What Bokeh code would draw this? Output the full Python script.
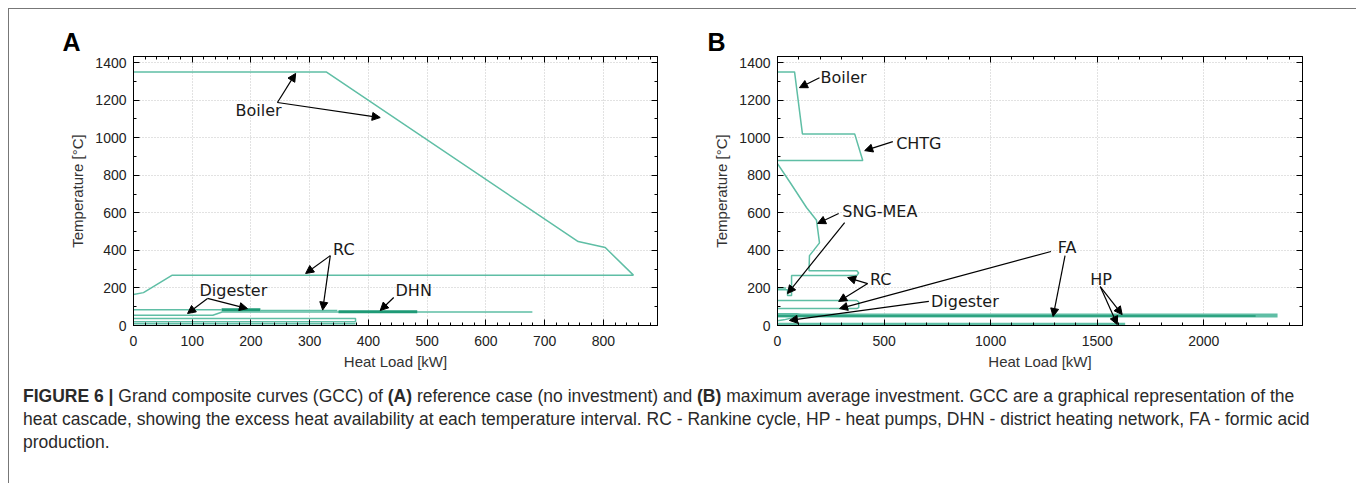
from bokeh.plotting import figure
from bokeh.models import (Range1d, LinearAxis, FixedTicker, Arrow, NormalHead, Div,
                          ColumnDataSource, CustomJSTickFormatter)
from bokeh.layouts import row, column
from bokeh.embed import file_html
from bokeh.resources import INLINE
from bokeh.core.properties import value

# ---------------- Panel A data (Heat load kW, Temperature C) ----------------
a_main_q = [0, 17, 66, 851, 803, 757, 328, 0]
a_main_t = [165, 175, 268, 268, 415, 447, 1350, 1350]
a_dig_q = [0, 150]
a_dig_t = [84, 84]
a_digdark_q = [150, 216]
a_digdark_t = [84, 84]
a_dig2_q = [216, 347]
a_dig2_t = [80, 80]
a_dhn_q = [0, 135, 151, 679]
a_dhn_t = [55, 55, 72, 72]
a_dhndark_q = [349, 483]
a_dhndark_t = [73, 73]
a_low_q = [0, 378, 378, 0]
a_low_t = [37, 37, 20, 20]
a_bot_q = [0, 378]
a_bot_t = [9, 9]

a_labels = ["Boiler", "RC", "Digester", "DHN"]
a_label_q = [213, 358, 170, 477]
a_label_t = [1144, 404, 186, 186]
a_arrow_q0 = [245, 245, 335, 335, 126, 126, 443]
a_arrow_t0 = [1187, 1187, 372, 372, 144, 144, 149]
a_arrow_q1 = [276, 420, 293, 322, 92, 194, 420]
a_arrow_t1 = [1342, 1107, 277, 82, 64, 90, 80]

a_xticks = [0, 100, 200, 300, 400, 500, 600, 700, 800]
yticks = [0, 200, 400, 600, 800, 1000, 1200, 1400]

# ---------------- Panel B data ----------------
b_main_q = [0, 80, 117, 362, 400, 0]
b_main_t = [1350, 1350, 1020, 1020, 878, 878]
b_sng_q = [0, 60, 136, 183, 197, 150, 148, 148, 372, 381, 372, 66, 66, 47, 47, 0]
b_sng_t = [862, 760, 628, 560, 440, 372, 300, 292, 292, 280, 266, 266, 160, 160, 190, 190]
b_s2_q = [0, 40]
b_s2_t = [200, 200]
b_rc2_q = [0, 372, 381, 381, 372, 0]
b_rc2_t = [133, 133, 125, 95, 90, 90]
b_dig_q = [0, 90, 120, 30, 0]
b_dig_t = [62, 62, 55, 30, 25]
b_fa_q = [0, 2346]
b_fa_t = [53, 53]
b_fadark_q = [0, 2243]
b_fadark_t = [50, 50]
b_hp_q = [0, 1631]
b_hp_t = [8, 8]

b_labels = ["Boiler", "CHTG", "SNG-MEA", "RC", "Digester", "FA", "HP"]
b_label_q = [310, 663, 480, 484, 879, 1359, 1518]
b_label_t = [1319, 968, 606, 245, 128, 415, 245]
b_arrow_q0 = [197, 541, 287, 315, 423, 423, 710, 1283, 1349, 1514, 1514]
b_arrow_t0 = [1319, 979, 596, 548, 223, 223, 128, 394, 372, 207, 207]
b_arrow_q1 = [103, 409, 188, 47, 329, 287, 56, 291, 1293, 1617, 1594]
b_arrow_t1 = [1266, 931, 543, 170, 255, 128, 27, 90, 48, 58, 5]

b_xticks = [0, 500, 1000, 1500, 2000]

LIGHT = "#5fbea5"
DARK = "#1e9a76"
TICK_FONT = "Liberation Sans"
LBL_FONT = "DejaVu Sans"
BLANK = CustomJSTickFormatter(code="return ''")


def style_axes(p, xticks, xminor):
    yminor = list(range(0, 1500, 100))
    p.xaxis.ticker = FixedTicker(ticks=xticks, minor_ticks=xminor)
    p.yaxis.ticker = FixedTicker(ticks=yticks, minor_ticks=yminor)
    for ax in [p.xaxis[0], p.yaxis[0]]:
        ax.major_tick_in = 6
        ax.major_tick_out = 0
        ax.minor_tick_in = 3
        ax.minor_tick_out = 0
        ax.axis_line_color = "black"
        ax.major_label_text_font = TICK_FONT
        ax.major_label_text_font_size = "14px"
        ax.major_label_text_color = "#222222"
        ax.axis_label_text_font = TICK_FONT
        ax.axis_label_text_font_size = "15px"
        ax.axis_label_text_font_style = "normal"
        ax.axis_label_text_color = "#333333"
    p.xaxis.major_label_standoff = 10
    p.xaxis.axis_label_standoff = 4
    p.yaxis.major_label_standoff = 7
    p.yaxis.axis_label_standoff = 6
    p.xaxis.axis_label = "Heat Load [kW]"
    p.yaxis.axis_label = "Temperature [°C]"
    top = LinearAxis(ticker=FixedTicker(ticks=xticks, minor_ticks=xminor), formatter=BLANK,
                     major_tick_in=6, major_tick_out=0, major_label_standoff=0,
                     minor_tick_in=3, minor_tick_out=0, axis_line_color="black")
    right = LinearAxis(ticker=FixedTicker(ticks=yticks, minor_ticks=yminor), formatter=BLANK,
                       major_tick_in=6, major_tick_out=0, major_label_standoff=0,
                       minor_tick_in=3, minor_tick_out=0, axis_line_color="black")
    p.add_layout(top, "above")
    p.add_layout(right, "right")
    p.xgrid.ticker = FixedTicker(ticks=xticks)
    p.ygrid.ticker = FixedTicker(ticks=yticks)
    for g in [p.xgrid[0], p.ygrid[0]]:
        g.grid_line_color = "#c4c4c4"
        g.grid_line_dash = "1 2"
        g.grid_line_width = 1
    p.outline_line_color = "black"


def style_title(p, text, offset):
    p.title.text = text
    p.title.text_font = TICK_FONT
    p.title.text_font_size = "25px"
    p.title.text_font_style = "bold"
    p.title.text_color = "black"
    p.title.align = "left"
    p.title.offset = offset
    p.title.standoff = 2


def add_labels(p, names, q, t, q0, t0, q1, t1):
    src = ColumnDataSource(dict(x=q, y=t, text=names))
    p.text(x="x", y="y", text="text", source=src, text_font=value(LBL_FONT),
           text_font_size="16px", text_align="center", text_baseline="middle",
           text_color="#1a1a1a")
    asrc = ColumnDataSource(dict(x0=q0, y0=t0, x1=q1, y1=t1))
    p.add_layout(Arrow(end=NormalHead(size=8, fill_color="black", line_color="black", line_width=1),
                       x_start="x0", y_start="y0", x_end="x1", y_end="y1", source=asrc,
                       line_color="black", line_width=1.2))


# ---------------- Figure A ----------------
pA = figure(width=691, height=366, output_backend="svg", toolbar_location=None,
            x_range=Range1d(0, 892), y_range=Range1d(0, 1432),
            min_border_left=124, min_border_right=43, min_border_top=47, min_border_bottom=50,
            background_fill_color="white", border_fill_color="white")
style_axes(pA, a_xticks, list(range(0, 900, 20)))
style_title(pA, "A", -71)
pA.line(a_main_q, a_main_t, line_color=LIGHT, line_width=1.5)
pA.line(a_dig_q, a_dig_t, line_color=LIGHT, line_width=1.5)
pA.line(a_dig2_q, a_dig2_t, line_color=LIGHT, line_width=1.5)
pA.line(a_dhn_q, a_dhn_t, line_color=LIGHT, line_width=1.5)
pA.line(a_low_q, a_low_t, line_color=LIGHT, line_width=1.5)
pA.line(a_bot_q, a_bot_t, line_color=LIGHT, line_width=1.5)
pA.line(a_digdark_q, a_digdark_t, line_color=DARK, line_width=3)
pA.line(a_dhndark_q, a_dhndark_t, line_color=DARK, line_width=3)
add_labels(pA, a_labels, a_label_q, a_label_t, a_arrow_q0, a_arrow_t0, a_arrow_q1, a_arrow_t1)

# ---------------- Figure B ----------------
pB = figure(width=649, height=366, output_backend="svg", toolbar_location=None,
            x_range=Range1d(0, 2463), y_range=Range1d(0, 1432),
            min_border_left=77, min_border_right=47, min_border_top=47, min_border_bottom=50,
            background_fill_color="white", border_fill_color="white")
style_axes(pB, b_xticks, list(range(0, 2500, 100)))
style_title(pB, "B", -70)
pB.line(b_main_q, b_main_t, line_color=LIGHT, line_width=1.5)
pB.line(b_sng_q, b_sng_t, line_color=LIGHT, line_width=1.5)
pB.line(b_s2_q, b_s2_t, line_color=LIGHT, line_width=1.5)
pB.line(b_rc2_q, b_rc2_t, line_color=LIGHT, line_width=1.5)
pB.line(b_dig_q, b_dig_t, line_color=LIGHT, line_width=1.5)
pB.line(b_fa_q, b_fa_t, line_color=LIGHT, line_width=4)
pB.line(b_fadark_q, b_fadark_t, line_color=DARK, line_width=1.5)
pB.line(b_hp_q, b_hp_t, line_color=LIGHT, line_width=2.5)
add_labels(pB, b_labels, b_label_q, b_label_t, b_arrow_q0, b_arrow_t0, b_arrow_q1, b_arrow_t1)

caption = Div(text=(
    "<b>FIGURE 6 |</b> Grand composite curves (GCC) of <b>(A)</b> reference case (no investment) and "
    "<b>(B)</b> maximum average investment. GCC are a graphical representation of the<br>"
    "heat cascade, showing the excess heat availability at each temperature interval. RC - Rankine cycle, "
    "HP - heat pumps, DHN - district heating network, FA - formic acid<br>production."),
    width=1340, height=120,
    styles={"font-family": "Liberation Sans, Arial, sans-serif", "font-size": "17.5px",
            "line-height": "23px", "color": "#2a2a2a", "padding": "5px 0 0 9px",
            "white-space": "nowrap"})

root = column(row(pA, pB), caption,
              styles={"border-top": "1px solid #777", "border-left": "1px solid #777",
                      "border-right": "1px solid #777", "margin": "8px 0 0 8px"})

open("out.html", "w").write(file_html(root, INLINE))
